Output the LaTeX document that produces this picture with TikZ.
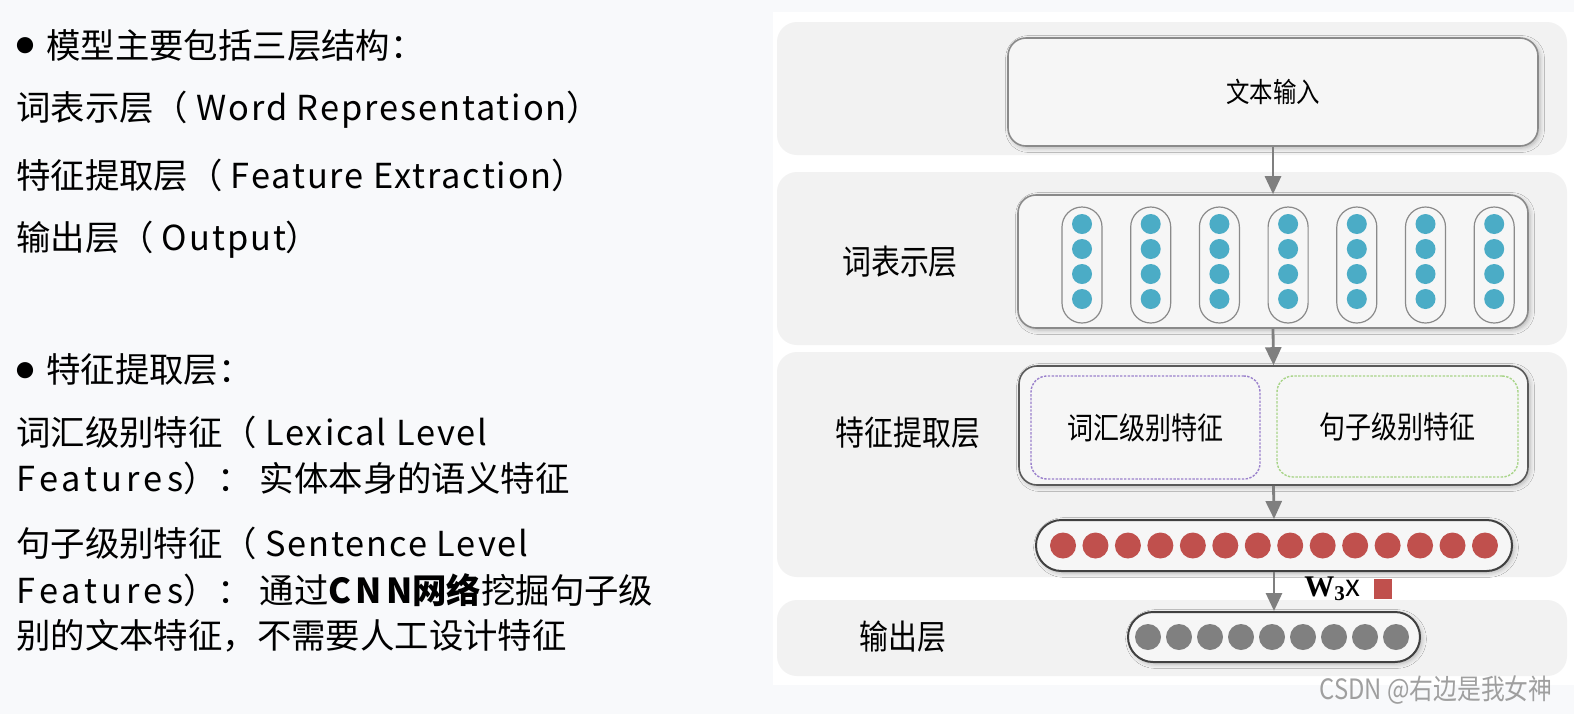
\documentclass[tikz,border=0pt]{standalone}
\usepackage{fontspec}
\setmainfont{Noto Sans CJK SC}
\newfontfamily\diagfont[FakeStretch=0.85]{Noto Sans CJK SC}
\newfontfamily\markfont[FakeStretch=0.85]{Noto Sans CJK SC}
\newfontfamily\wfont{Liberation Serif}
\usetikzlibrary{arrows.meta, positioning, shadows.blur}

\definecolor{pagebg}{HTML}{F8F9FB}
\definecolor{bandgray}{HTML}{F2F2F2}
\definecolor{boxgray}{HTML}{F6F6F6}
\definecolor{edgegray}{HTML}{8A8A8A}
\definecolor{arrowgray}{HTML}{7F7F7F}
\definecolor{dotblue}{HTML}{4BACC6}
\definecolor{dotred}{HTML}{C0504D}
\definecolor{dotgray}{HTML}{808080}
\definecolor{lexpurple}{HTML}{9A80CC}
\definecolor{sentgreen}{HTML}{A8D488}

\newcommand{\bulletmark}{\raisebox{2.6pt}{\fontsize{9pt}{9pt}\selectfont ●}\hspace{6pt}}
\newcommand{\en}[1]{{\addfontfeatures{LetterSpace=5.5}#1}}
\newcommand{\enwide}[1]{{\addfontfeatures{LetterSpace=12}#1}}

\begin{document}
\begin{tikzpicture}[
    x=0.5pt, y=-0.5pt,
    lefttxt/.style={anchor=west, inner sep=0pt, font=\fontsize{17.2pt}{20pt}\selectfont},
    band/.style={rectangle, fill=bandgray, rounded corners=10pt, inner sep=0pt},
    box/.style={rectangle, draw=edgegray, line width=0.8pt, fill=boxgray, rounded corners=9pt, inner sep=0pt,
        blur shadow={shadow xshift=1pt, shadow yshift=-1pt, shadow blur steps=4, shadow opacity=25}},
    subbox/.style={rectangle, dashed, dash pattern=on 1.2pt off 0.7pt, line width=0.7pt, fill=boxgray, rounded corners=8pt, inner sep=0pt},
    pill/.style={rectangle, draw=edgegray, line width=0.6pt, fill=boxgray, rounded corners=10pt, minimum width=20pt, minimum height=58pt, inner sep=0pt},
    dot/.style={circle, inner sep=0pt, minimum size=#1},
    layertxt/.style={font=\diagfont\fontsize{17pt}{20pt}\selectfont},
    feattxt/.style={font=\diagfont\fontsize{15.3pt}{18pt}\selectfont},
    arrow/.style={-{Triangle[width=8pt,length=9pt]}, line width=1.4pt, arrowgray}
]
\useasboundingbox (0,0) rectangle (1574,714);
\fill[pagebg] (0,0) rectangle (1574,714);
\fill[white] (773,12) rectangle (1574,685);

% Left column text
\node[lefttxt] (t1) at (16,45) {\bulletmark 模型主要包括三层结构：};
\node[lefttxt] (t2) at (16,110) {词表示层（\hspace{4pt}\en{Word Representation}）};
\node[lefttxt] (t3) at (16,175) {特征提取层（\hspace{4pt}\en{Feature Extraction}）};
\node[lefttxt] (t4) at (16,240) {输出层（\hspace{4pt}\en{Output}）};
\node[lefttxt] (t5) at (16,370) {\bulletmark 特征提取层：};
\node[lefttxt] (t6) at (16,432) {词汇级别特征（\hspace{4pt}\en{Lexical Level}};
\node[lefttxt] (t7) at (16,478) {\enwide{Features}）：\hspace{4pt}实体本身的语义特征};
\node[lefttxt] (t8) at (16,543) {句子级别特征（\hspace{4pt}\en{Sentence Level}};
\node[lefttxt] (t9) at (16,590) {\enwide{Features}）：\hspace{4pt}通过\textbf{\enwide{CNN}网络}挖掘句子级};
\node[lefttxt] (t10) at (16,636) {别的文本特征，不需要人工设计特征};

% Layer bands
\node[band, minimum width=395pt, minimum height=66.5pt] (band1) at (1172,88.5) {};
\node[band, minimum width=395pt, minimum height=86.5pt] (band2) at (1172,258.5) {};
\node[band, minimum width=395pt, minimum height=112.5pt] (band3) at (1172,464.5) {};
\node[band, minimum width=395pt, minimum height=38pt] (band4) at (1172,638) {};

% Layer labels
\node[layertxt] (lword) at (900,262) {词表示层};
\node[layertxt] (lfeat) at (908,433) {特征提取层};
\node[layertxt] (lout) at (903,637) {输出层};

% Text input
\node[box, minimum width=265pt, minimum height=54pt, font=\diagfont\fontsize{13.8pt}{16pt}\selectfont] (input) at (1273,92) {文本输入};

% Word representation
\node[box, minimum width=255pt, minimum height=66.5pt] (word) at (1273,261.5) {};
\foreach \i in {0,...,6} {
    \node[pill] (pill\i) at ({1082+68.7*\i},265) {};
    \foreach \j in {0,...,3}
        \node[dot=10pt, fill=dotblue] (wd\i-\j) at ({1082+68.7*\i},{224+25*\j}) {};
}

% Feature extraction
\node[box, draw=black!65, minimum width=254.5pt, minimum height=59.5pt] (feat) at (1273.5,425.5) {};
\node[subbox, draw=lexpurple, minimum width=114.5pt, minimum height=51.5pt, feattxt] (lex) at (1145.5,427.5) {词汇级别特征};
\node[subbox, draw=sentgreen, minimum width=120.5pt, minimum height=50.5pt, feattxt] (sent) at (1397.5,426.5) {句子级别特征};

% Feature vector
\node[box, draw=black!75, line width=1pt, minimum width=238pt, minimum height=25.5pt, rounded corners=12.7pt] (vec) at (1274,545.5) {};
\foreach \k in {0,...,13}
    \node[dot=13pt, fill=dotred] (rd\k) at ({1063+32.46*\k},545.5) {};

% Output
\node[box, draw=black!75, line width=1pt, minimum width=146pt, minimum height=25pt, rounded corners=12.5pt] (out) at (1274,637) {};
\foreach \k in {0,...,8}
    \node[dot=13pt, fill=dotgray] (gd\k) at ({1148+31*\k},637) {};

% Arrows between layers
\draw[arrow] (input.south) -- (word.north);
\draw[arrow] (word.south) -- (feat.north);
\draw[arrow] (feat.south) -- (vec.north);
\draw[arrow] (vec.south) -- (out.north);

% Weight label
\node[anchor=west, inner sep=0pt, font=\fontsize{15pt}{17pt}\selectfont] (wlabel) at (1304,589)
    {{\wfont\bfseries W\textsubscript{3}}x};
\node[rectangle, fill=dotred, minimum width=9pt, minimum height=10pt, inner sep=0pt, right=6pt of wlabel] (wsq) {};

% Watermark
\node[anchor=east, inner sep=0pt, text=gray!75, font=\markfont\fontsize{14pt}{16pt}\selectfont] (mark) at (1553,690) {CSDN @右边是我女神};
\end{tikzpicture}
\end{document}
